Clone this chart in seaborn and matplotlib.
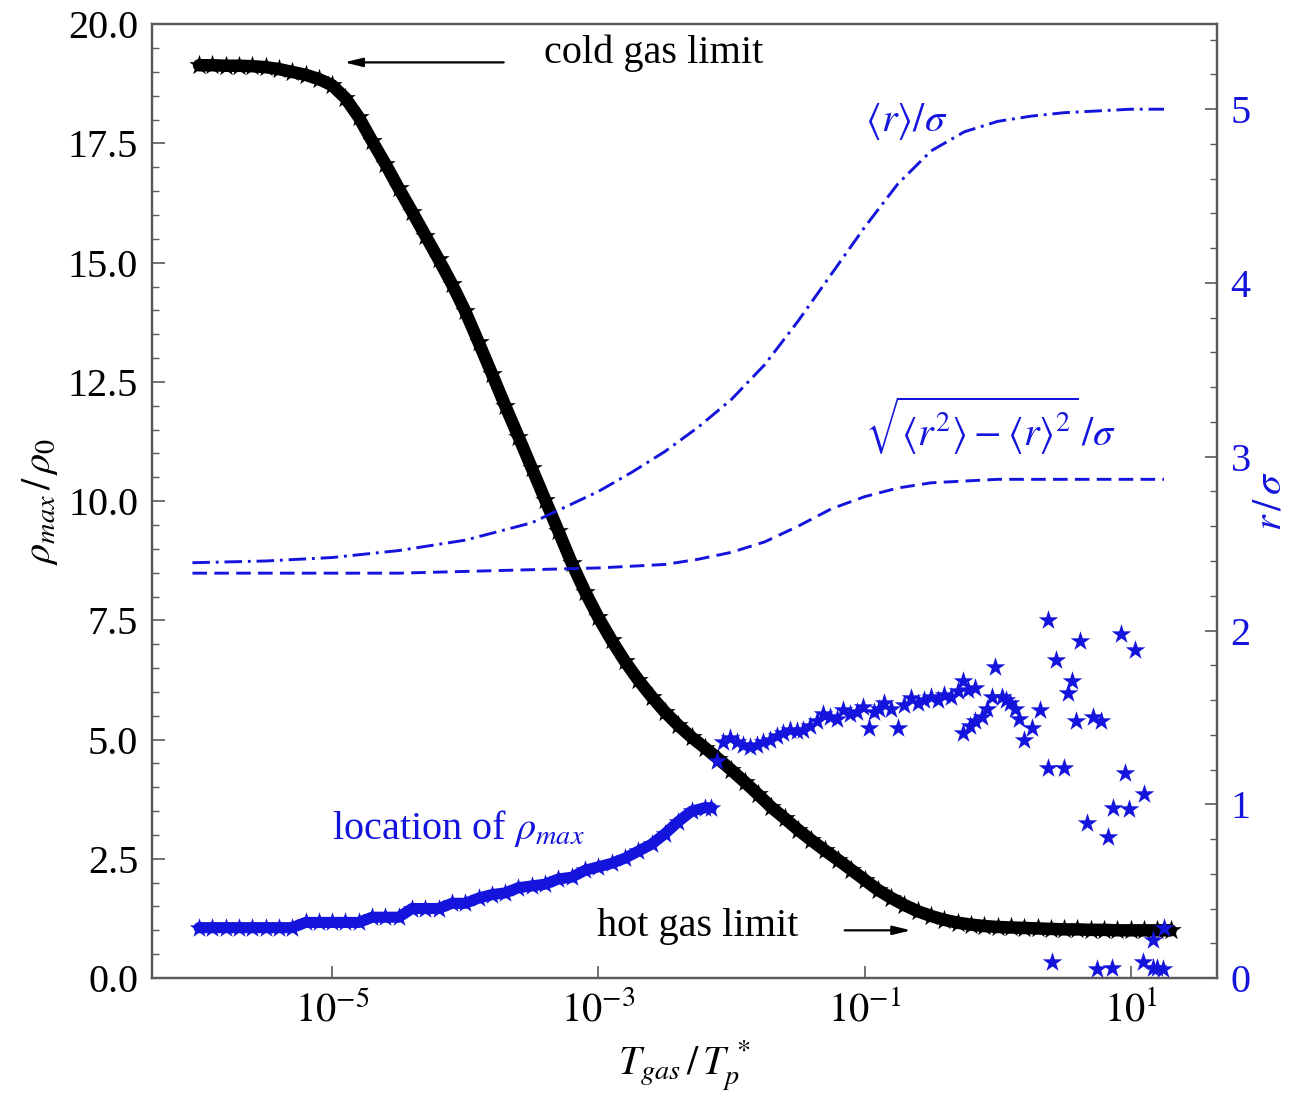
import numpy as np
import pandas as pd
import seaborn as sns
import matplotlib.pyplot as plt
from matplotlib.ticker import FixedLocator, MultipleLocator, NullLocator

# peak density rho_max/rho_0 vs log10(T_gas/T_p*)
black_logT = [-6.0, -5.9, -5.8, -5.7, -5.6, -5.5, -5.4, -5.3, -5.2, -5.1,
              -5.0, -4.9, -4.8, -4.7, -4.6, -4.5, -4.4, -4.3, -4.2, -4.1,
              -4.0, -3.9, -3.8, -3.7, -3.6, -3.5, -3.4, -3.3, -3.2, -3.1,
              -3.0, -2.9, -2.8, -2.7, -2.6, -2.5, -2.4, -2.3, -2.2, -2.1,
              -2.0, -1.9, -1.8, -1.7, -1.6, -1.5, -1.4, -1.3, -1.2, -1.1,
              -1.0, -0.9, -0.8, -0.7, -0.6, -0.5, -0.4, -0.3, -0.2, -0.1,
              0.0, 0.1, 0.2, 0.3, 0.4, 0.5, 0.6, 0.7, 0.8, 0.9,
              1.0, 1.1, 1.2, 1.3]
black_rho = [19.14, 19.14, 19.13, 19.13, 19.12, 19.10, 19.06, 19.00, 18.94, 18.85,
             18.72, 18.45, 18.05, 17.55, 17.07, 16.56, 16.07, 15.57, 15.07, 14.55,
             13.98, 13.33, 12.67, 12.00, 11.35, 10.69, 10.03, 9.37, 8.70, 8.10,
             7.56, 7.08, 6.64, 6.25, 5.90, 5.58, 5.30, 5.05, 4.83, 4.60,
             4.36, 4.11, 3.85, 3.58, 3.35, 3.11, 2.89, 2.68, 2.48, 2.27,
             2.06, 1.85, 1.68, 1.53, 1.40, 1.30, 1.22, 1.16, 1.12, 1.09,
             1.07, 1.06, 1.05, 1.04, 1.03, 1.02, 1.02, 1.01, 1.01, 1.00,
             1.00, 1.00, 1.00, 1.00]

# location of rho_max (r/sigma), smooth part
loc_logT = [-6.0, -5.9, -5.8, -5.7, -5.6, -5.5, -5.4, -5.3, -5.2, -5.1,
            -5.0, -4.9, -4.8, -4.7, -4.6, -4.5, -4.4, -4.3, -4.2, -4.1,
            -4.0, -3.9, -3.8, -3.7, -3.6, -3.5, -3.4, -3.3, -3.2, -3.1,
            -3.0, -2.9, -2.8, -2.7, -2.6, -2.5, -2.4, -2.3, -2.2, -2.15]
loc_r = [0.29, 0.29, 0.29, 0.29, 0.29, 0.29, 0.29, 0.29, 0.32, 0.32,
         0.32, 0.32, 0.32, 0.35, 0.35, 0.35, 0.40, 0.40, 0.40, 0.43,
         0.43, 0.46, 0.48, 0.49, 0.52, 0.53, 0.54, 0.57, 0.58, 0.62,
         0.64, 0.66, 0.69, 0.73, 0.77, 0.83, 0.90, 0.96, 0.98, 0.98]

# location of rho_max, after the jump and the noisy hot end
scat_logT = [-2.11, -2.06, -2.01, -1.96, -1.91, -1.86, -1.81, -1.76, -1.71, -1.66,
             -1.61, -1.56, -1.51, -1.46, -1.41, -1.36, -1.31, -1.26, -1.21, -1.16,
             -1.11, -1.06, -1.01, -0.97, -0.93, -0.89, -0.85, -0.80, -0.75, -0.70,
             -0.65, -0.60, -0.55, -0.50, -0.45, -0.40, -0.35, -0.30, -0.26, -0.26,
             -0.22, -0.21, -0.17, -0.17, -0.12, -0.08, -0.04, -0.02, 0.03, 0.06,
             0.09, 0.13, 0.16, 0.20, 0.26, 0.32, 0.38, 0.38, 0.41, 0.44,
             0.50, 0.53, 0.56, 0.59, 0.62, 0.67, 0.72, 0.75, 0.78, 0.83,
             0.86, 0.87, 0.93, 0.96, 0.99, 1.03, 1.09, 1.10, 1.17, 1.17,
             1.20, 1.24, 1.25]
scat_r = [1.25, 1.36, 1.38, 1.36, 1.34, 1.33, 1.34, 1.36, 1.37, 1.39,
          1.41, 1.43, 1.42, 1.43, 1.45, 1.48, 1.52, 1.50, 1.49, 1.54,
          1.52, 1.53, 1.56, 1.44, 1.53, 1.55, 1.58, 1.55, 1.44, 1.57,
          1.61, 1.58, 1.60, 1.62, 1.60, 1.63, 1.62, 1.65, 1.71, 1.41,
          1.66, 1.45, 1.67, 1.48, 1.50, 1.55, 1.62, 1.79, 1.62, 1.60,
          1.58, 1.55, 1.49, 1.37, 1.44, 1.54, 1.21, 2.06, 0.09, 1.83,
          1.21, 1.64, 1.71, 1.48, 1.94, 0.89, 1.50, 0.05, 1.48, 0.81,
          0.06, 0.98, 1.98, 1.18, 0.97, 1.89, 0.09, 1.06, 0.06, 0.22,
          0.06, 0.05, 0.29]

# <r>/sigma and sqrt(<r^2>-<r>^2)/sigma
mom_logT = [-6.05, -5.5, -5.0, -4.5, -4.0, -3.5, -3.0, -2.75, -2.5, -2.25,
            -2.0, -1.75, -1.5, -1.25, -1.0, -0.75, -0.5, -0.25, 0.0, 0.25,
            0.5, 0.75, 1.0, 1.25]
mean_r = [2.39, 2.40, 2.42, 2.46, 2.52, 2.62, 2.80, 2.91, 3.03, 3.17,
          3.33, 3.53, 3.78, 4.05, 4.32, 4.57, 4.76, 4.87, 4.93, 4.96,
          4.98, 4.99, 5.00, 5.00]
std_r = [2.33, 2.33, 2.33, 2.33, 2.34, 2.35, 2.36, 2.37, 2.38, 2.41,
         2.45, 2.51, 2.60, 2.70, 2.77, 2.82, 2.85, 2.86, 2.87, 2.87,
         2.87, 2.87, 2.87, 2.87]

BLUE = '#1414dc'
FRAME = '#5a5a5a'

sns.set_theme(style='ticks')
plt.rcParams['font.family'] = ['Liberation Serif', 'DejaVu Serif']
plt.rcParams['mathtext.fontset'] = 'stix'
plt.rcParams['text.color'] = 'black'
plt.rcParams['axes.labelcolor'] = 'black'
plt.rcParams['xtick.labelcolor'] = 'black'
plt.rcParams['ytick.labelcolor'] = 'black'
FS = 29

df_black = pd.DataFrame({'T': 10.0 ** np.array(black_logT), 'rho': black_rho})
df_loc = pd.DataFrame({'T': 10.0 ** np.array(loc_logT + scat_logT), 'r': loc_r + scat_r})
df_loc_smooth = pd.DataFrame({'T': 10.0 ** np.array(loc_logT), 'r': loc_r})
df_mom = pd.DataFrame({'T': 10.0 ** np.array(mom_logT), 'mean': mean_r, 'std': std_r})

fig = plt.figure(figsize=(12.89, 11.02), dpi=100)
ax = fig.add_axes([0.118, 0.1125, 0.826, 0.8655])
ax.set_xscale('log')
ax2 = ax.twinx()

# black band: thick line under the stars so the dense markers read as one band
sns.lineplot(data=df_black, x='T', y='rho', ax=ax, color='black', lw=9, sort=True)
sns.scatterplot(data=df_black, x='T', y='rho', ax=ax, color='black', marker='*',
                s=240, linewidth=0, zorder=3)

sns.lineplot(data=df_mom, x='T', y='mean', ax=ax2, color=BLUE, lw=2.1,
             linestyle=(0, (6, 2, 1, 2)))
sns.lineplot(data=df_mom, x='T', y='std', ax=ax2, color=BLUE, lw=2.1,
             linestyle=(0, (5, 2.5)))
sns.lineplot(data=df_loc_smooth, x='T', y='r', ax=ax2, color=BLUE, lw=8)
sns.scatterplot(data=df_loc, x='T', y='r', ax=ax2, color=BLUE, marker='*',
                s=220, linewidth=0, zorder=3)

ax.set_xlim(10 ** -6.353, 10 ** 1.647)
ax.set_ylim(0, 20)
ax2.set_ylim(0, 5.489)

ax.xaxis.set_major_locator(FixedLocator([1e-5, 1e-3, 1e-1, 1e1]))
ax.xaxis.set_minor_locator(NullLocator())
ax.set_xticklabels([r'$10^{-5}$', r'$10^{-3}$', r'$10^{-1}$', r'$10^{1}$'])
ax.yaxis.set_major_locator(MultipleLocator(2.5))
ax.yaxis.set_minor_locator(MultipleLocator(0.5))
ax.yaxis.set_major_formatter(plt.FormatStrFormatter('%.1f'))
ax2.yaxis.set_major_locator(MultipleLocator(1))
ax2.yaxis.set_minor_locator(MultipleLocator(0.2))

ax.tick_params(axis='both', which='major', direction='in', length=9, width=1.2,
               color=FRAME, labelcolor='black', labelsize=FS, pad=10,
               top=False, right=False)
ax.tick_params(axis='y', which='minor', direction='in', length=5, width=1,
               color=FRAME, right=False)
ax2.tick_params(axis='y', which='major', direction='in', length=9, width=1.2,
                color=FRAME, labelsize=FS, labelcolor=BLUE, pad=10)
ax2.tick_params(axis='y', which='minor', direction='in', length=5, width=1,
                color=FRAME)

for a in (ax, ax2):
    for sp in a.spines.values():
        sp.set_visible(True)
        sp.set_color(FRAME)
        sp.set_linewidth(1.6)

ax.set_xlabel(r'$T_{gas}\,/\,T_p^{\,*}$', fontsize=FS, labelpad=6)
ax.set_ylabel(r'$\rho_{max}\,/\,\rho_0$', fontsize=FS, labelpad=6)
ax2.set_ylabel(r'$r\,/\,\sigma$', fontsize=FS, color=BLUE, labelpad=1)

# annotations
ax.text(10 ** -3.41, 19.39, 'cold gas limit', fontsize=FS, ha='left', va='center')
ax.annotate('', xy=(10 ** -4.93, 19.2), xytext=(10 ** -3.69, 19.2),
            arrowprops=dict(arrowstyle='-|>,head_length=0.9,head_width=0.22',
                            color='black', lw=1.6))
ax.text(10 ** -3.01, 1.07, 'hot gas limit', fontsize=FS, ha='left', va='center')
ax.annotate('', xy=(10 ** -0.63, 1.0), xytext=(10 ** -1.17, 1.0),
            arrowprops=dict(arrowstyle='-|>,head_length=0.9,head_width=0.22',
                            color='black', lw=1.6))
ax2.text(10 ** -1.0, 4.93, r'$\langle r\rangle/\sigma$', fontsize=FS, color=BLUE,
         ha='left', va='center')
ax2.text(10 ** -1.0, 3.18, r'$\sqrt{\langle r^2\rangle-\langle r\rangle^2}\,/\sigma$',
         fontsize=FS, color=BLUE, ha='left', va='center')
ax.text(10 ** -5.0, 3.14, r'location of $\rho_{max}$', fontsize=FS, color=BLUE,
        ha='left', va='center')

fig.savefig('out.png', dpi=100)
